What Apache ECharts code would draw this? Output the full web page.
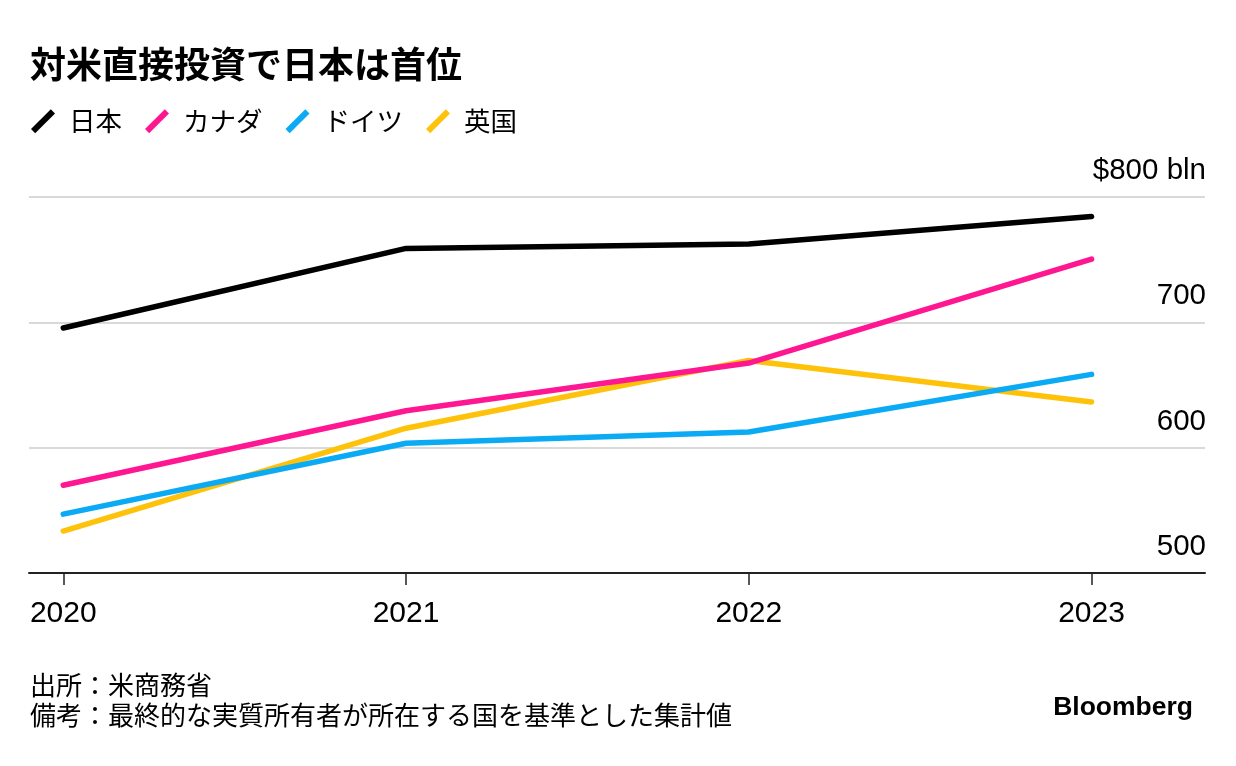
<!DOCTYPE html>
<html>
<head>
<meta charset="utf-8">
<script src="https://cdn.jsdelivr.net/npm/echarts@6/dist/echarts.min.js"></script>
<style>
html,body{margin:0;padding:0;background:#fff;}
#chart{width:1236px;height:766px;}
</style>
</head>
<body>
<div id="chart"></div>
<script>
// ---- data ----
const years = [2020, 2021, 2022, 2023];
const japan = [695.5, 759, 762.5, 784.5];
const canada = [570, 629.5, 667.5, 750.5];
const germany = [547, 603.5, 612.5, 658.5];
const uk = [533.5, 615.5, 669.5, 636.5];
const seriesNames = ['日本', 'カナダ', 'ドイツ', '英国'];
const yTicks = [500, 600, 700, 800];
const titleText = '対米直接投資で日本は首位';
const noteText = '出所：米商務省\n備考：最終的な実質所有者が所在する国を基準とした集計値';
const brandText = 'Bloomberg';

const colors = {'日本': '#000000', 'カナダ': '#ff1791', 'ドイツ': '#0aaaf5', '英国': '#ffc20a'};
const values = {'日本': japan, 'カナダ': canada, 'ドイツ': germany, '英国': uk};

const JP = '"Noto Sans CJK JP", "Noto Sans", sans-serif';
const NUM = '"Liberation Sans", Arial, sans-serif';
const slash = 'path://M0,19 L4,23 L23,4 L19,0 Z';

const drawOrder = ['英国', 'ドイツ', 'カナダ', '日本'];
const series = drawOrder.map(name => ({
  name: name,
  type: 'line',
  symbol: 'none',
  data: years.map((y, i) => [y, values[name][i]]),
  lineStyle: {color: colors[name], width: 5.5, cap: 'round', join: 'round'},
  itemStyle: {color: colors[name]},
  emphasis: {disabled: true},
  z: 2 + drawOrder.indexOf(name)
}));

const chart = echarts.init(document.getElementById('chart'), null, {renderer: 'canvas'});
chart.setOption({
  animation: false,
  backgroundColor: '#ffffff',
  title: [
    {text: titleText, left: 25, top: 41,
     textStyle: {fontFamily: JP, fontSize: 36, fontWeight: 'bold', color: '#000'}},
    {text: noteText, left: 25, top: 665,
     textStyle: {fontFamily: JP, fontSize: 26, fontWeight: 'normal', color: '#000', lineHeight: 30}},
    {text: brandText, right: 38, top: 689,
     textStyle: {fontFamily: NUM, fontSize: 26.5, fontWeight: 'bold', color: '#000'}}
  ],
  legend: {
    data: seriesNames,
    left: 26, top: 103,
    icon: slash,
    itemWidth: 24, itemHeight: 24,
    itemGap: 23,
    selectedMode: false,
    textStyle: {fontFamily: JP, fontSize: 26.5, color: '#000', padding: [0, 0, 0, 9]}
  },
  grid: {left: 29, right: 31, top: 197, height: 376, containLabel: false},
  xAxis: {
    type: 'value',
    min: 2019.9, max: 2023.331,
    axisLine: {show: true, lineStyle: {color: '#222', width: 2}},
    axisTick: {show: true, customValues: years, length: 12, lineStyle: {color: '#222', width: 1.5}},
    axisLabel: {show: true, customValues: years, formatter: v => String(v), margin: 26,
      fontFamily: NUM, fontSize: 30, color: '#000'},
    splitLine: {show: false}
  },
  yAxis: {
    type: 'value',
    position: 'right',
    min: 500, max: 800, interval: 100,
    axisLine: {show: false},
    axisTick: {show: false},
    axisLabel: {inside: true, margin: -1, verticalAlign: 'bottom', padding: [0, 0, 11, 0],
      fontFamily: NUM, fontSize: 29.5, color: '#000',
      formatter: v => v === 800 ? '$800 bln' : String(v)},
    splitLine: {show: true, lineStyle: {color: '#d9d9d9', width: 2}}
  },
  series: series
});
</script>
</body>
</html>
